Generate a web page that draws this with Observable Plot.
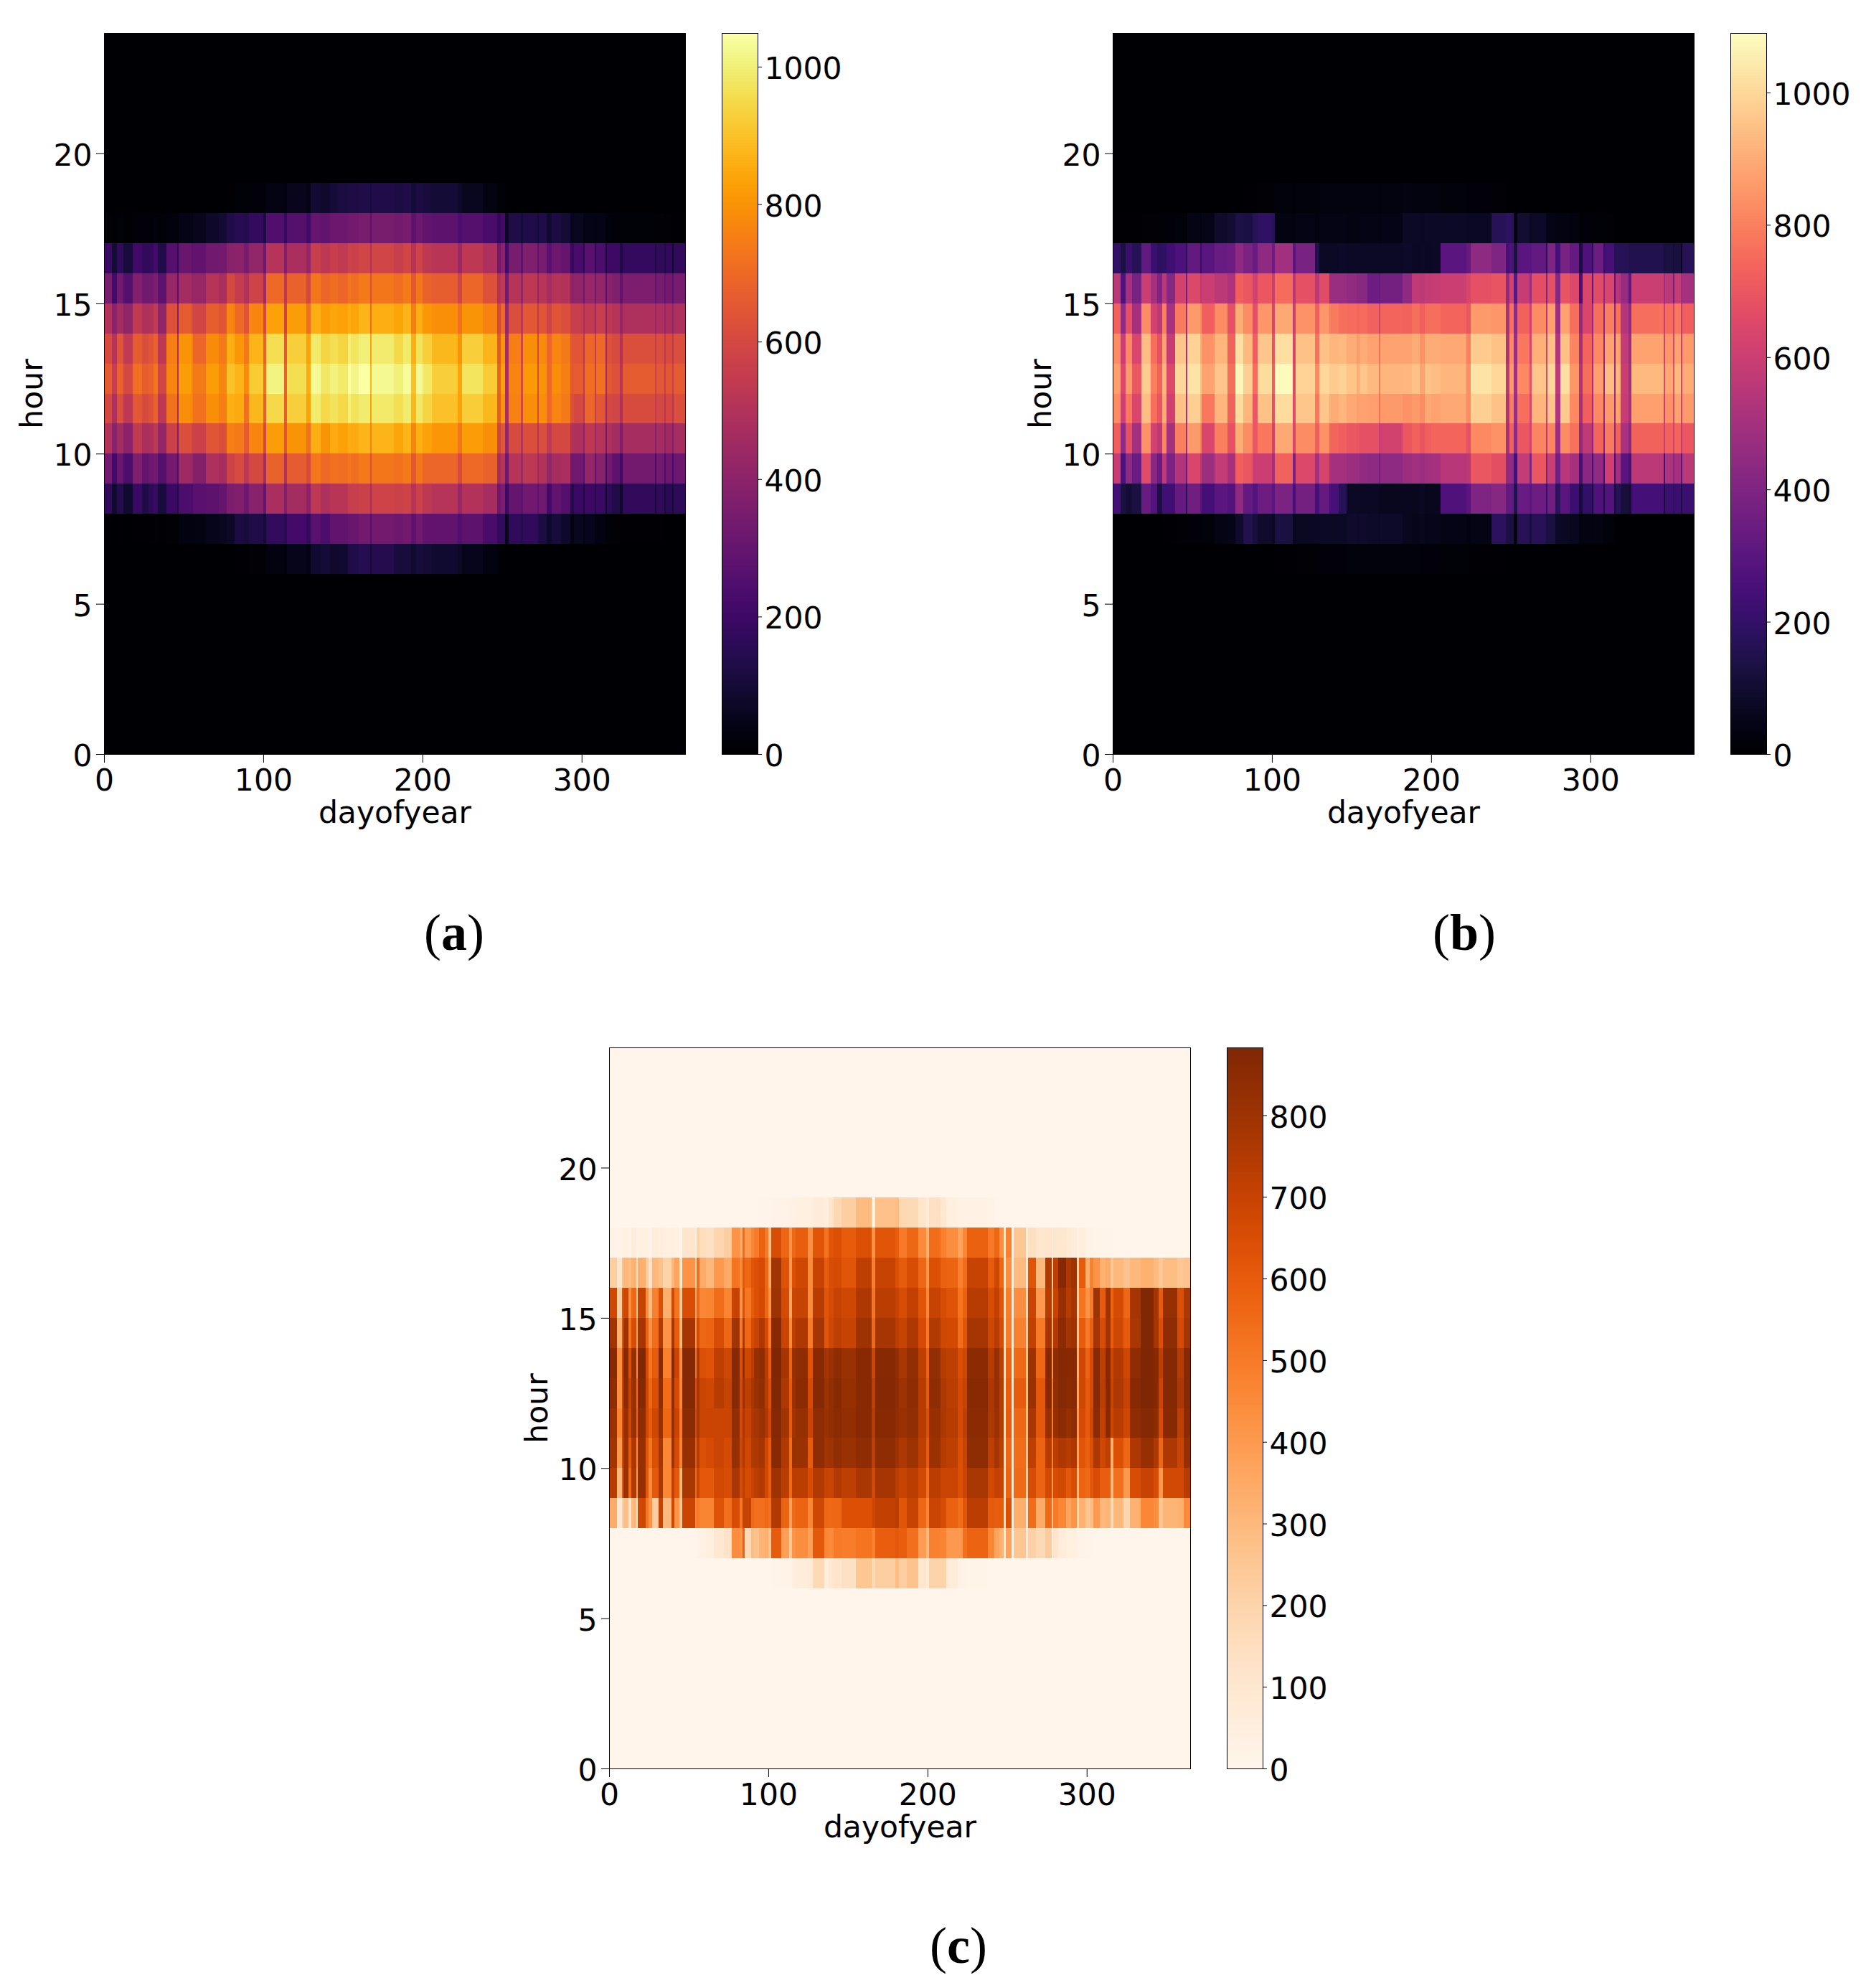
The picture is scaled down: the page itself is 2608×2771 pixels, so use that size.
<!DOCTYPE html>
<html>
<head>
<meta charset="utf-8">
<script src="https://cdn.jsdelivr.net/npm/d3@7"></script>
<script src="https://cdn.jsdelivr.net/npm/@observablehq/plot@0.6"></script>
<style>
html,body{margin:0;padding:0;background:#fff}
#page{position:relative;width:2608px;height:2771px;overflow:hidden;background:#fff}
.cap{position:absolute;font-family:"Liberation Serif",serif;font-size:72px;line-height:1;transform:translate(-50%,-50%);color:#000}
.cap b{font-weight:700}
</style>
</head>
<body>
<div id="page"></div>
<script>
// Day-of-year boundaries of the vertical stripes (a) and (b)
const stripeDays = [0,5,8,12,18,24,28,31,34,39,46,47,55,56,64,72,77,82,88,91,100,102,113,115,127,130,136,142,147,153,155,160,167,168,182,188,193,196,200,206,222,225,238,247,249,252,254,262,263,272,273,278,281,287,293,295,301,302,308,309,315,316,319,324,326,346,347,352,353,357,358,365];
// Day-of-year boundaries of the stripes in panel (c)
const stripeDaysC = [0,5,8,9,12,14,17,18,23,25,27,31,34,39,41,44,46,54,55,57,61,66,72,77,82,84,85,89,91,94,98,100,102,108,113,115,117,125,128,135,138,141,146,155,165,167,180,182,187,194,199,201,208,212,219,222,225,238,242,245,248,249,253,254,262,263,268,274,278,279,282,287,290,294,295,299,302,304,308,312,315,317,323,327,334,342,345,348,357,361,365];

// Panel (a): one list per hour, one value per stripe
const a06 = [0,0,0,0,0,0,0,0,0,0,0,0,0,0,0,0,2,5,8,12,10,30,20,50,40,90,100,85,90,130,135,145,100,140,110,110,90,110,100,90,70,50,30,10,8,2,1];
const a07 = [5,3,5,3,8,7,8,10,6,12,8,30,25,35,50,60,70,120,110,130,100,180,150,220,180,270,240,290,290,310,310,340,250,340,320,340,280,330,290,290,250,280,230,170,180,60,170,140,170,140,120,80,110,80,30,60,40,50,30,30,15,15,10,8,7,5,5,3,4,2,4];
const a08 = [170,90,140,90,190,130,160,190,110,190,130,240,230,270,280,300,360,370,320,390,300,480,370,460,400,530,490,520,520,560,560,570,470,580,570,580,510,570,530,510,430,500,470,320,360,200,300,280,330,280,330,220,290,260,130,190,120,200,130,190,70,160,130,80,170,100,170,100,150,110,160];
const a09 = [340,220,310,240,370,300,320,340,260,340,240,450,430,380,490,470,580,610,530,600,460,680,500,660,610,730,700,720,710,730,710,740,620,730,720,740,650,730,690,690,610,700,680,470,520,320,510,440,530,440,500,420,470,480,320,330,260,420,290,390,190,340,280,210,340,230,340,240,320,230,320];
const a10 = [500,390,460,400,540,480,490,530,420,570,360,620,580,570,640,620,750,740,660,770,600,820,640,800,720,860,800,850,830,860,850,870,760,870,840,870,770,860,830,810,730,820,790,580,650,420,610,510,620,510,620,540,600,600,500,490,400,530,430,510,340,490,460,360,470,380,470,390,450,380,470];
const a11 = [600,490,620,530,650,610,630,680,530,720,470,790,750,720,790,750,860,850,720,880,670,950,670,930,830,990,950,970,950,1000,970,990,830,985,960,990,880,980,940,900,830,925,880,660,800,480,760,600,790,600,790,700,770,740,620,600,520,690,550,650,430,600,590,490,610,540,600,520,600,520,620];
const a12 = [660,560,680,600,710,670,680,730,590,770,500,820,760,740,820,770,900,870,780,920,720,1010,680,960,850,1030,980,1005,985,1045,1015,1049,880,1025,1000,1035,900,1030,980,930,840,975,920,680,830,480,770,610,815,610,800,700,790,750,650,660,540,710,560,720,450,650,630,520,660,570,650,560,650,560,660];
const a13 = [610,510,640,540,660,620,640,680,530,750,480,800,750,690,780,740,860,810,740,870,680,960,650,930,830,985,940,960,940,1000,975,1000,840,990,950,985,860,970,930,880,800,930,870,650,800,470,750,590,790,590,780,690,770,740,640,640,530,690,550,700,440,630,610,500,620,550,620,530,610,530,620];
const a14 = [500,400,470,410,540,490,500,540,410,630,380,660,610,590,670,640,770,700,640,770,600,830,580,820,710,860,820,840,830,860,840,870,710,860,840,870,750,860,810,790,720,800,760,600,700,430,620,530,650,530,640,580,640,620,560,560,480,540,450,560,400,530,510,420,490,430,490,420,480,420,490];
const a15 = [350,220,340,260,380,330,340,360,280,430,270,460,420,430,510,480,600,550,500,580,450,700,530,680,600,730,690,710,690,730,710,740,620,730,710,740,650,730,680,670,590,690,630,500,540,340,510,420,530,420,520,460,510,500,400,410,320,430,340,420,270,390,370,290,360,290,350,290,340,280,350];
const a16 = [190,100,170,110,210,170,180,220,130,260,170,310,280,290,330,340,390,400,350,420,320,510,370,480,420,560,530,560,540,580,570,590,490,590,560,590,510,580,530,520,440,530,490,330,400,220,350,280,370,280,350,270,320,300,180,230,150,270,170,240,110,200,200,120,180,120,170,120,170,90,170];
const a17 = [12,8,14,8,20,18,20,25,15,25,20,45,35,55,80,95,130,150,140,180,120,250,180,260,210,300,290,320,320,340,340,350,270,350,340,350,280,320,290,280,240,260,230,170,220,70,130,100,130,100,130,90,120,100,50,60,40,45,35,45,25,25,18,15,15,10,12,8,10,6,8];
const a18 = [0,0,0,0,0,0,0,0,0,0,0,0,0,0,2,2,5,15,15,20,15,40,30,55,45,95,85,105,115,125,125,135,100,130,120,130,100,120,110,100,80,60,35,10,15,5,3];

// Panel (b)
const b06 = [0,0,0,0,0,0,0,0,0,0,0,0,0,0,0,0,0,0,0,0,3,8,8,12,15,18,20,20,22,22,22,22,20,22,22,22,18,18,18,15,12,8,5,3,2];
const b07 = [2,2,2,2,3,4,4,5,6,12,10,18,15,25,40,50,90,150,120,90,70,130,65,70,70,80,75,80,90,85,90,85,70,85,60,55,60,55,55,45,30,40,180,130,130,40,170,120,170,120,130,80,70,60,30,35,30,35,25,25,5,2,2];
const b08 = [240,130,110,130,340,280,130,230,230,330,160,360,300,240,300,280,440,320,280,350,300,390,250,370,240,330,250,170,75,75,70,70,65,60,65,60,70,60,60,270,300,400,420,320,320,150,340,300,350,200,360,180,300,220,110,200,120,270,130,280,110,170,120,110,240,110,220,180,220,130,220];
const b09 = [590,260,440,340,660,430,340,570,390,530,340,640,560,480,580,500,720,700,600,600,500,730,380,650,490,630,500,500,480,470,450,440,360,440,480,490,480,490,500,550,560,700,670,450,450,240,580,400,700,400,600,360,550,500,240,430,250,450,250,610,240,490,300,240,560,250,520,420,500,300,560];
const b10 = [720,440,680,490,840,620,560,810,500,800,470,860,800,640,800,680,900,830,700,780,620,890,640,830,720,840,740,720,700,690,680,680,580,620,700,730,690,720,740,740,680,820,840,500,730,440,700,620,810,560,810,480,830,770,440,570,420,740,410,790,420,730,510,430,730,600,730,610,740,580,700];
const b11 = [830,610,780,640,940,760,690,900,610,950,500,980,900,780,920,730,1010,920,700,950,680,1010,660,960,780,960,900,920,890,870,880,870,760,860,840,860,830,890,880,890,830,980,950,520,800,470,760,640,920,620,960,530,970,820,500,720,480,820,450,860,450,880,590,500,870,600,840,650,880,620,860];
const b12 = [870,650,860,700,975,800,730,920,650,1000,540,1030,950,880,960,760,1075,980,750,1010,720,1085,660,990,820,1000,970,985,955,900,960,930,790,920,925,950,880,950,940,920,830,1030,1000,560,860,490,820,680,960,650,1000,570,1020,850,530,760,500,870,450,940,460,920,600,500,930,650,890,680,930,640,900];
const b13 = [830,600,820,640,940,760,680,880,590,960,500,990,900,840,920,730,1020,930,720,960,690,1020,640,950,770,950,920,930,900,860,900,880,760,880,880,900,840,900,900,890,800,970,950,520,820,470,780,640,910,620,950,540,950,810,500,740,480,820,440,880,450,880,580,480,880,620,850,640,880,610,860];
const b14 = [730,440,680,500,830,620,560,800,510,790,480,860,820,720,830,680,900,830,680,850,640,890,600,840,720,850,790,760,750,740,750,730,620,740,730,760,720,760,760,740,700,860,850,500,770,440,730,620,830,560,870,480,880,760,450,640,440,760,420,800,420,770,540,440,760,600,750,620,780,580,720];
const b15 = [560,270,500,380,600,500,400,560,420,620,360,650,560,600,560,520,720,700,620,700,600,750,550,680,560,660,470,470,450,430,430,350,330,370,440,570,560,580,590,600,640,680,690,440,620,300,590,480,670,400,680,420,690,650,250,640,320,660,440,640,300,550,460,310,600,480,560,370,580,480,500];
const b16 = [200,130,220,170,320,220,180,190,230,260,170,320,200,300,340,350,440,390,340,440,350,490,300,380,140,75,80,85,80,80,80,75,70,80,85,70,80,70,80,300,330,440,400,250,270,130,300,300,320,170,400,250,380,330,120,270,170,350,200,250,160,170,170,150,150,120,130,110,125,60,170];
const b17 = [5,5,5,6,10,12,12,15,18,25,10,40,30,50,90,100,140,130,170,190,170,35,30,40,30,40,40,40,35,35,40,40,35,45,75,80,70,80,80,80,70,70,170,190,180,40,100,70,85,50,45,35,35,30,15,20,12,15,10,10,5,4,3,2];
const b18 = [0,0,0,0,0,0,0,0,0,0,0,0,0,0,0,0,3,5,5,10,10,25,20,25,25,30,30,30,30,30,30,30,25,30,35,30,30,30,30,25,20,20,10,5,3,1];

// Panel (c)
const c06 = [0,0,0,0,0,0,0,0,0,0,0,0,0,0,0,0,0,0,0,0,0,0,0,0,0,0,0,0,0,0,0,0,5,15,15,50,60,80,170,50,90,110,130,250,170,220,280,220,260,100,80,200,200,70,25,15,10,3];
const c07 = [0,0,0,0,0,0,0,0,0,0,0,0,0,0,0,0,0,5,15,30,45,90,120,440,420,570,170,280,260,310,330,260,600,380,240,420,440,380,610,460,450,500,490,520,480,590,610,590,530,390,290,480,470,400,400,530,570,460,360,320,40,370,30,250,90,210,170,230,50,110,60,40,40,20,20,10,5,2];
const c08 = [340,90,200,280,110,300,100,680,510,420,220,700,300,680,420,250,690,470,500,470,470,630,530,650,510,700,700,550,530,530,560,530,750,570,370,550,570,460,680,560,550,560,640,640,680,710,730,620,700,560,460,690,650,580,540,620,730,600,590,600,70,640,60,330,120,540,340,550,260,500,460,360,420,170,320,250,280,400,300,310,170,300,190,320,460,440,250,310,320,450];
const c09 = [740,300,600,810,550,750,380,820,610,450,610,770,460,710,610,300,770,550,690,610,610,670,650,770,650,730,660,700,730,750,670,590,800,730,550,730,730,650,750,700,690,750,720,770,670,780,730,700,730,670,530,730,690,690,640,690,770,670,710,690,90,570,100,550,240,650,570,670,400,650,670,610,650,280,570,550,610,650,590,590,300,530,400,650,700,650,400,670,670,740];
const c10 = [790,400,660,810,600,760,450,820,620,520,640,780,460,800,660,470,820,600,740,640,660,690,660,820,680,760,680,750,760,780,680,600,860,750,540,810,810,600,840,790,800,830,810,840,720,840,800,760,800,720,600,810,740,720,640,700,840,720,780,720,100,560,120,540,280,720,570,740,480,730,760,740,760,360,620,580,640,760,680,720,330,640,560,760,820,760,560,760,690,820];
const c11 = [810,470,680,820,680,820,570,840,680,600,680,820,560,820,690,500,850,660,770,690,690,690,690,830,660,770,700,760,780,810,760,670,870,790,600,790,820,690,840,810,830,850,830,860,740,860,830,810,830,740,640,820,760,740,660,720,850,760,810,740,100,600,130,560,300,770,610,820,500,820,850,820,840,400,660,600,680,850,710,860,680,740,680,840,870,840,660,860,720,850];
const c12 = [840,430,680,850,690,810,540,870,680,560,640,840,540,840,660,460,870,640,770,690,680,740,700,860,660,820,720,770,810,830,740,640,880,760,600,810,850,660,870,800,830,860,820,860,720,870,840,800,840,740,600,840,760,730,660,700,860,760,820,740,100,590,120,600,300,810,610,860,480,830,870,850,860,360,680,600,660,860,730,870,690,760,700,860,883,860,690,870,760,860];
const c13 = [860,430,680,870,640,820,450,880,660,520,600,860,480,860,690,440,870,520,760,640,630,720,680,860,640,840,680,740,820,840,740,600,883,780,570,820,840,630,860,780,810,840,810,860,680,860,830,770,830,720,570,830,740,720,640,680,850,740,820,720,90,570,110,550,280,800,560,860,420,840,870,860,860,320,680,570,660,860,720,860,680,750,680,840,883,860,720,870,740,860];
const c14 = [790,330,620,800,520,650,350,780,570,430,540,750,420,780,600,300,780,420,660,560,570,650,560,790,500,770,560,660,700,760,660,500,860,690,450,720,760,500,780,620,680,720,700,800,550,780,730,700,760,660,500,750,680,670,540,620,780,680,740,650,80,500,100,480,250,710,500,780,350,750,850,780,800,250,600,500,580,780,650,790,600,680,600,770,880,780,640,840,660,780];
const c15 = [680,230,620,680,430,560,220,700,440,300,480,640,330,680,520,240,650,340,560,460,470,540,470,700,420,640,510,600,640,670,560,420,800,660,360,690,700,450,740,620,660,700,680,760,510,730,700,650,710,620,450,700,650,630,520,580,740,650,710,620,70,490,80,440,200,690,400,740,300,700,820,740,780,200,520,420,500,800,600,800,570,660,560,780,880,780,600,820,640,760];
const c16 = [220,110,260,300,280,320,120,330,230,130,300,270,200,300,360,100,420,180,530,340,300,400,340,520,450,610,560,620,640,660,560,350,790,630,400,640,680,450,700,590,650,660,620,720,480,700,640,600,650,560,400,640,580,570,480,540,700,600,680,560,40,440,70,290,110,620,300,750,230,720,870,760,800,180,600,330,480,420,320,340,250,300,260,300,320,290,240,280,250,260];
const c17 = [20,15,30,40,20,60,15,40,40,20,60,50,40,45,35,10,110,40,200,150,130,190,220,420,350,540,400,460,500,580,500,280,650,560,420,560,590,430,620,520,620,640,600,640,420,620,590,500,560,450,320,540,480,440,360,460,580,500,560,440,30,480,40,250,70,140,100,110,70,100,100,80,60,30,50,20,15,10,8,5,5,2,2,2,2,2,2,2,2,2];
const c18 = [0,0,0,0,0,0,0,0,0,0,0,0,0,0,0,0,0,0,0,0,0,0,0,0,0,0,0,2,3,5,8,8,15,20,25,30,40,45,70,50,110,180,220,290,30,270,280,180,170,110,70,130,90,45,30,25,25,12,5,3];

const hoursShown = [6,7,8,9,10,11,12,13,14,15,16,17,18];
const xTicks = [0,100,200,300];
const yTicks = [0,5,10,15,20];
const ticksA = [0,200,400,600,800,1000];
const ticksB = [0,200,400,600,800,1000];
const ticksC = [0,100,200,300,400,500,600,700,800];

const FONT = "DejaVu Sans";
const FS = 42.5;
const page = document.getElementById("page");

function panel({left, top, edges, rows, scheme, max, cbLeft, cbTicks, cap, capX, capY}) {
  const PW = 810, PH = 1005, ML = 145, MT = 46, MB = 125;
  const cells = [];
  const n = edges.length - 1;
  for (let h = 0; h < 24; ++h) {
    const i = hoursShown.indexOf(h);
    const row = i < 0 ? [] : rows[i];
    if (row.length > n || (h >= 8 && h <= 16 && row.length !== n)) throw new Error("row " + h + " has " + row.length + " values, expected " + n + " in panel " + cap);
    for (let k = 0; k < n; ++k) cells.push({d0: edges[k], d1: edges[k + 1], h, v: row[k] ?? 0});
  }
  const color = {type: "linear", scheme, domain: [0, max]};
  const chart = Plot.plot({
    width: ML + PW + 6, height: MT + PH + MB,
    marginLeft: ML, marginRight: 6, marginTop: MT, marginBottom: MB,
    style: {fontFamily: FONT, background: "transparent", overflow: "visible"},
    x: {domain: [0, 365]},
    y: {domain: [0, 24]},
    color,
    marks: [
      Plot.rect(cells, {x1: "d0", x2: "d1", y1: "h", y2: d => d.h + 1, fill: "v", shapeRendering: "crispEdges"}),
      Plot.frame({stroke: "black", strokeWidth: 1}),
      Plot.axisX({ticks: xTicks, tickSize: 12, tickFormat: () => "", label: null, stroke: "black"}),
      Plot.axisY({ticks: yTicks, tickSize: 11, tickFormat: () => "", label: null, stroke: "black"}),
      Plot.text(xTicks, {x: d => d, text: d => String(d), frameAnchor: "bottom", lineAnchor: "middle", dy: 36.5, fontSize: FS, fill: "black"}),
      Plot.text(yTicks, {y: d => d, text: d => String(d), frameAnchor: "left", textAnchor: "end", dx: -17, dy: 3, fontSize: FS, fill: "black"}),
      Plot.text(["dayofyear"], {text: d => d, frameAnchor: "bottom", lineAnchor: "middle", dy: 82, fontSize: FS, fill: "black"}),
      Plot.text(["hour"], {text: d => d, frameAnchor: "left", textAnchor: "middle", dx: -100, rotate: -90, fontSize: FS, fill: "black"})
    ]
  });
  chart.style.position = "absolute";
  chart.style.left = (left - ML) + "px";
  chart.style.top = (top - MT) + "px";
  page.appendChild(chart);

  const steps = d3.range(256).map(i => i * max / 256);
  const bar = Plot.plot({
    width: 180, height: MT + PH + MB,
    marginLeft: 2, marginRight: 128, marginTop: MT, marginBottom: MB,
    style: {fontFamily: FONT, background: "transparent", overflow: "visible"},
    y: {domain: [0, max]},
    color,
    marks: [
      Plot.rect(steps, {y1: d => d, y2: d => d + max / 255, fill: d => d, shapeRendering: "crispEdges"}),
      Plot.frame({stroke: "black", strokeWidth: 1}),
      Plot.axisY({anchor: "right", ticks: cbTicks, tickSize: 5, tickFormat: () => "", label: null, stroke: "black"}),
      Plot.text(cbTicks, {y: d => d, text: d => String(d), frameAnchor: "right", textAnchor: "start", dx: 9, dy: 3, fontSize: FS, fill: "black"})
    ]
  });
  bar.style.position = "absolute";
  bar.style.left = (cbLeft - 2) + "px";
  bar.style.top = (top - MT) + "px";
  page.appendChild(bar);

  const c = document.createElement("div");
  c.className = "cap";
  c.style.left = capX + "px";
  c.style.top = capY + "px";
  c.innerHTML = "(<b>" + cap + "</b>)";
  page.appendChild(c);
}

panel({left: 145, top: 46, edges: stripeDays, rows: [a06,a07,a08,a09,a10,a11,a12,a13,a14,a15,a16,a17,a18], scheme: "inferno", max: 1049, cbLeft: 1006, cbTicks: ticksA, cap: "a", capX: 633, capY: 1300});
panel({left: 1551, top: 46, edges: stripeDays, rows: [b06,b07,b08,b09,b10,b11,b12,b13,b14,b15,b16,b17,b18], scheme: "magma", max: 1090, cbLeft: 2412, cbTicks: ticksB, cap: "b", capX: 2041, capY: 1300});
panel({left: 848.5, top: 1460, edges: stripeDaysC, rows: [c06,c07,c08,c09,c10,c11,c12,c13,c14,c15,c16,c17,c18], scheme: "oranges", max: 883, cbLeft: 1709.5, cbTicks: ticksC, cap: "c", capX: 1336, capY: 2712});
</script>
</body>
</html>
